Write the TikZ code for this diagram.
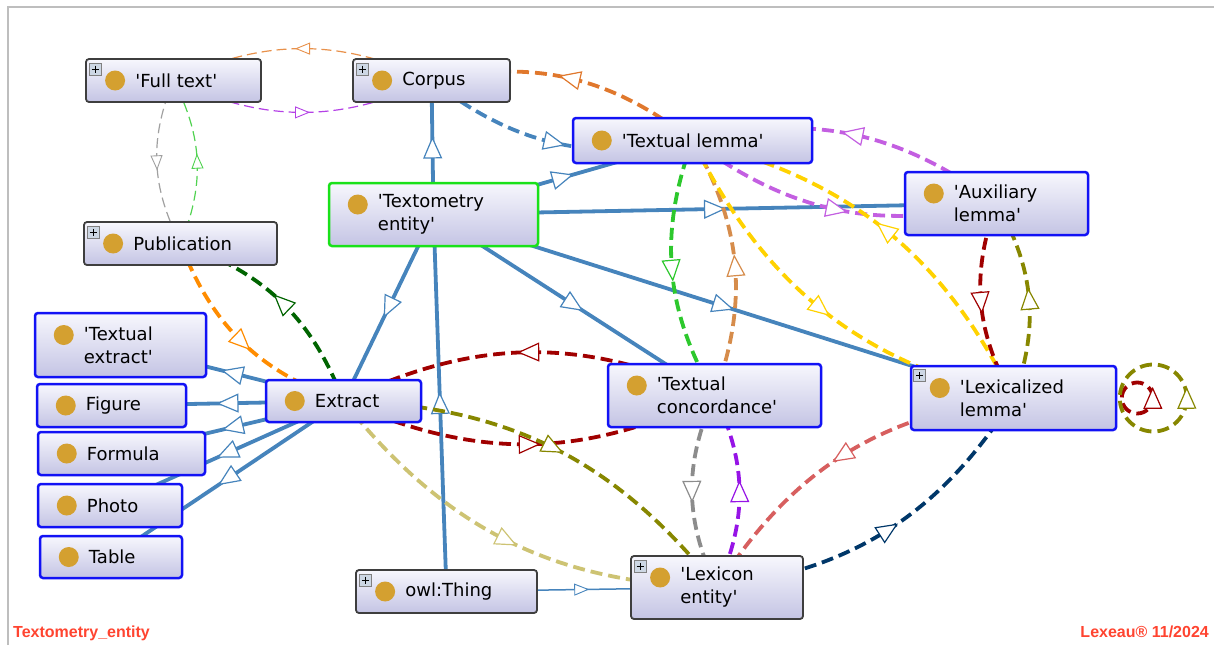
\documentclass[tikz,border=0pt]{standalone}
\usepackage{fontspec}
\setmainfont{DejaVu Sans}[Ligatures=TeXOff]
\newfontfamily\stampfont{Liberation Sans}
\usepackage{tikz}
\usetikzlibrary{arrows.meta,decorations.markings}

\definecolor{steel}{RGB}{70,132,188}
\definecolor{boxtop}{RGB}{247,247,253}
\definecolor{boxbot}{RGB}{196,196,228}
\definecolor{boxblue}{RGB}{18,18,245}
\definecolor{boxdark}{RGB}{62,62,62}
\definecolor{boxgreen}{RGB}{25,225,25}
\definecolor{dotc}{RGB}{212,160,48}
\definecolor{stampc}{RGB}{255,68,48}
\definecolor{framec}{RGB}{190,190,190}
\definecolor{orthin}{RGB}{232,145,75}
\definecolor{pthin}{RGB}{180,65,230}
\definecolor{grthin}{RGB}{160,160,160}
\definecolor{gthin}{RGB}{80,210,80}
\definecolor{orcorp}{RGB}{224,120,45}
\definecolor{orchidc}{RGB}{195,95,225}
\definecolor{limec}{RGB}{45,200,45}
\definecolor{peruc}{RGB}{214,140,75}
\definecolor{goldc}{RGB}{255,210,0}
\definecolor{dred}{RGB}{160,0,0}
\definecolor{olivec}{RGB}{135,135,0}
\definecolor{khakic}{RGB}{205,195,115}
\definecolor{greyc}{RGB}{140,140,140}
\definecolor{violc}{RGB}{150,20,230}
\definecolor{salmc}{RGB}{215,95,95}
\definecolor{navyc}{RGB}{0,55,105}
\definecolor{orpub}{RGB}{255,140,0}
\definecolor{dgreen}{RGB}{0,100,0}

\pgfdeclarelayer{links}
\pgfsetlayers{links,main}

\tikzstyle{cls} = [rectangle, rounded corners=3pt, top color=boxtop, bottom color=boxbot]
\tikzstyle{bluebox} = [draw=boxblue, line width=2.5pt]
\tikzstyle{darkbox} = [draw=boxdark, line width=1.8pt]
\tikzstyle{greenbox} = [draw=boxgreen, line width=2.5pt]
\tikzstyle{lbl} = [anchor=west, align=left, inner sep=0pt, font=\fontsize{18}{23}\selectfont]
\tikzstyle{plusbox} = [draw=gray, fill={rgb,255:red,205;green,215;blue,228}, line width=0.6pt]
\tikzstyle{stamp} = [inner sep=0pt, stampc, font=\stampfont\bfseries\fontsize{16}{18}\selectfont]
\tikzstyle{sub} = [steel, line width=3.8pt]
\tikzstyle{prop} = [line width=3.8pt, dash pattern=on 12pt off 6pt]
\tikzstyle{thinprop} = [line width=1.2pt, dash pattern=on 10pt off 5pt]
\tikzset{
  midarr/.style={postaction={decorate, solid, decoration={markings, mark=at position #1 with {\arrow[xshift=11pt]{Triangle[fill=white, length=22pt, width=19pt, line width=1.2pt]}}}}},
  midarr/.default=0.5,
  smallarr/.style={postaction={decorate, solid, decoration={markings, mark=at position #1 with {\arrow[xshift=7.5pt]{Triangle[fill=white, length=15pt, width=12pt, line width=0.9pt]}}}}},
  smallarr/.default=0.5
}

\begin{document}
\begin{tikzpicture}[x=1pt,y=-1pt]
\useasboundingbox (0,0) rectangle (1214,645);
\draw[framec, line width=1.5pt] (8,645) -- (8,7) -- (1214,7);

\foreach \nm/\cx/\cy/\w/\h/\bx/\dd/\txt in {
  ft/173.5/80.5/175/43/darkbox/0/{'Full text'},
  corp/431.5/80.5/157/43/darkbox/0/Corpus,
  tent/433.5/214.5/209/63/greenbox/10/{'Textometry\\entity'},
  tlem/692.5/140.5/239/45/bluebox/0/{'Textual lemma'},
  aux/996.5/203.5/183/63/bluebox/10/{'Auxiliary\\lemma'},
  pub/180.5/243.5/193/43/darkbox/0/Publication,
  textx/120.5/345/171/64/bluebox/10/{'Textual\\extract'},
  fig/111.5/405.5/149/43/bluebox/0/Figure,
  form/121.5/453.5/167/43/bluebox/0/Formula,
  photo/110/505.5/144/43/bluebox/0/Photo,
  tab/111/557/142/42/bluebox/0/Table,
  ext/343.5/401/155/42/bluebox/0/Extract,
  owl/446.5/591.5/181/43/darkbox/0/owl:Thing,
  tcon/714.5/395.5/213/63/bluebox/10/{'Textual\\concordance'},
  lexl/1013.5/398/205/64/bluebox/10/{'Lexicalized\\lemma'},
  lexe/717/587.5/172/63/darkbox/10/{'Lexicon\\entity'}} {
  \node[cls, \bx, minimum width=\w pt, minimum height=\h pt] (\nm) at (\cx,\cy) {};
  \fill[dotc] ([xshift=30pt, yshift=\dd pt]\nm.west) circle (10pt);
  \node[lbl] (\nm l) at ([xshift=50pt]\nm.west) {\txt};
}

\foreach \nm in {ft,corp,pub,owl,lexl,lexe} {
  \draw[plusbox] ([xshift=4pt,yshift=-5pt]\nm.north west) rectangle ++(12,12);
  \draw[line width=1pt] ([xshift=6.5pt,yshift=-11pt]\nm.north west) -- ++(7,0);
  \draw[line width=1pt] ([xshift=10pt,yshift=-7.5pt]\nm.north west) -- ++(0,7);
}

\node[stamp, anchor=base west] (tag) at (13,637) {Textometry\_entity};
\node[stamp, anchor=base east] (sign) at (1209,637) {Lexeau® 11/2024};

\begin{pgfonlayer}{links}
\foreach \a/\b in {tent/corp, tent/tlem, tent/aux, tent/tcon, tent/lexl, tent/ext, owl/tent,
  ext/textx, ext/fig, ext/form, ext/photo, ext/tab}
  \draw[sub, midarr] (\a.center) -- (\b.center);
\draw[steel, line width=1.5pt, smallarr] (owl.center) -- (lexe.center);

\draw[thinprop, orthin, smallarr] (corp.center) to[bend right=25] (ft.center);
\draw[thinprop, pthin, smallarr] (ft.center) to[bend right=25] (corp.center);
\draw[thinprop, grthin, smallarr] (ft.center) to[bend right=25] (pub.center);
\draw[thinprop, gthin, smallarr] (pub.center) to[bend right=25] (ft.center);

\foreach \a/\b/\c in {tlem/corp/orcorp, corp/tlem/steel, aux/tlem/orchidc, tlem/aux/orchidc,
  tlem/tcon/limec, tcon/tlem/peruc, tlem/lexl/goldc, lexl/tlem/goldc, aux/lexl/dred,
  lexl/aux/olivec, tcon/ext/dred, ext/tcon/dred, ext/lexe/khakic, tcon/lexe/greyc,
  lexe/tcon/violc, lexl/lexe/salmc, lexe/lexl/navyc, pub/ext/orpub, ext/pub/dgreen}
  \draw[prop, \c, midarr] (\a.center) to[bend right=25] (\b.center);
\draw[prop, olivec, midarr] (ext.center) to[bend left=25] (lexe.center);

\draw[prop, dred, midarr=0.001] ([xshift=20pt]lexl.east) circle (15.5pt);
\draw[prop, olivec, midarr=0.001] ([xshift=36pt]lexl.east) circle (33.5pt);
\end{pgfonlayer}
\end{tikzpicture}
\end{document}
